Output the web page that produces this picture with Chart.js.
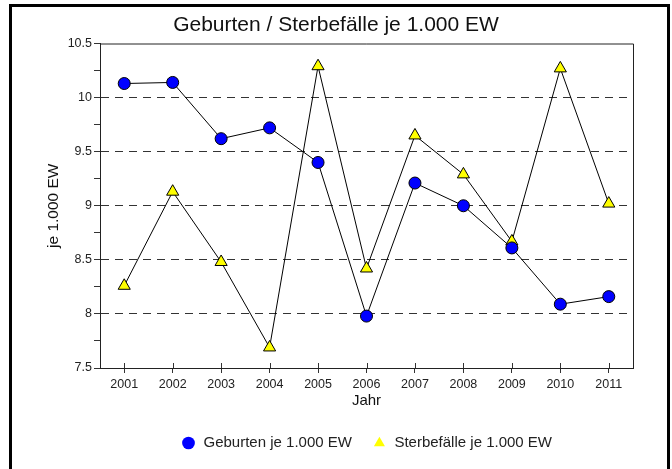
<!DOCTYPE html>
<html>
<head>
<meta charset="utf-8">
<script src="https://cdn.jsdelivr.net/npm/chart.js"></script>
<style>
    body { margin: 0; background: #fff; }
    #wrap { width: 672px; height: 469px; }
</style>
</head>
<body>
<div id="wrap"><canvas id="chart" width="672" height="469"></canvas></div>
<script>
// Data
const years = ['2001', '2002', '2003', '2004', '2005', '2006', '2007', '2008', '2009', '2010', '2011'];
const geburten = [10.13, 10.14, 9.62, 9.72, 9.40, 7.98, 9.21, 9.00, 8.61, 8.09, 8.16];
const sterbefaelle = [8.26, 9.13, 8.48, 7.69, 10.29, 8.42, 9.65, 9.29, 8.67, 10.27, 9.02];

const FONT = "'Liberation Sans', Arial, sans-serif";

// Outer frame, plot frame (top/right) and x ticks crossing the axis
const framePlugin = {
    id: 'frame',
    beforeDraw(chart) {
        const ctx = chart.ctx;
        ctx.save();
        ctx.fillStyle = '#ffffff';
        ctx.fillRect(0, 0, chart.width, chart.height);
        ctx.restore();
    },
    afterDraw(chart) {
        const ctx = chart.ctx;
        const a = chart.chartArea;
        ctx.save();
        // plot frame
        ctx.strokeStyle = '#222';
        ctx.lineWidth = 1;
        ctx.beginPath();
        ctx.moveTo(a.left, a.top + 0.5);
        ctx.lineTo(a.right + 0.5, a.top + 0.5);
        ctx.lineTo(a.right + 0.5, a.bottom);
        ctx.stroke();
        // inner part of x ticks
        const xs = chart.scales.x;
        ctx.strokeStyle = '#333';
        ctx.beginPath();
        xs.ticks.forEach((t, i) => {
            const px = Math.round(xs.getPixelForTick(i)) + 0.5;
            ctx.moveTo(px, a.bottom - 5);
            ctx.lineTo(px, a.bottom);
        });
        ctx.stroke();
        // page frame
        ctx.strokeStyle = '#000';
        ctx.lineWidth = 3;
        ctx.strokeRect(10.5, 5.5, 658, 470);
        ctx.restore();
    }
};

const ctx = document.getElementById('chart');
new Chart(ctx, {
    type: 'line',
    data: {
        labels: years,
        datasets: [{
            label: 'Geburten je 1.000 EW',
            data: geburten,
            borderColor: '#000',
            borderWidth: 1,
            pointStyle: 'circle',
            pointRadius: 6,
            pointBackgroundColor: '#0000ff',
            pointBorderColor: '#000',
            pointBorderWidth: 1,
            tension: 0
        }, {
            label: 'Sterbefälle je 1.000 EW',
            data: sterbefaelle,
            borderColor: '#000',
            borderWidth: 1,
            pointStyle: 'triangle',
            pointRadius: 7,
            pointBackgroundColor: '#ffff00',
            pointBorderColor: '#000',
            pointBorderWidth: 1,
            tension: 0
        }]
    },
    options: {
        responsive: false,
        animation: false,
        devicePixelRatio: 1,
        layout: { padding: { left: 0, right: 0, top: 0, bottom: 8.5 } },
        plugins: {
            title: {
                display: true,
                text: 'Geburten / Sterbefälle je 1.000 EW',
                font: { family: FONT, size: 21, weight: 'normal' },
                color: '#111',
                padding: { top: 12.4, bottom: 5.9 }
            },
            legend: {
                position: 'bottom',
                fullSize: false,
                labels: {
                    font: { family: FONT, size: 15 },
                    color: '#222',
                    usePointStyle: true,
                    boxWidth: 15,
                    boxHeight: 9,
                    padding: 20,
                    generateLabels: (chart) => {
                        const items = Chart.defaults.plugins.legend.labels.generateLabels(chart);
                        return items.map(it => Object.assign(it, { strokeStyle: it.fillStyle, lineWidth: 0 }));
                    }
                }
            },
            tooltip: { enabled: false }
        },
        scales: {
            x: {
                type: 'category',
                offset: true,
                afterFit: (scale) => { scale.height = 47.5; },
                grid: {
                    drawOnChartArea: false,
                    tickLength: 5,
                    color: '#333'
                },
                border: { color: '#222', width: 1 },
                ticks: {
                    font: { family: FONT, size: 12.5 },
                    color: '#222',
                    padding: 4,
                    maxRotation: 0
                },
                title: {
                    display: true,
                    text: 'Jahr',
                    font: { family: FONT, size: 15 },
                    color: '#111',
                    padding: { top: 0, bottom: 5.5 }
                }
            },
            y: {
                min: 7.5,
                max: 10.5,
                afterFit: (scale) => { scale.width = 100; },
                ticks: {
                    stepSize: 0.25,
                    font: { family: FONT, size: 12.5 },
                    color: '#222',
                    padding: 2,
                    callback: (v) => (Math.abs(v % 0.5) < 1e-9 ? String(v) : '')
                },
                grid: {
                    tickLength: 6,
                    tickColor: '#333',
                    color: (c) => {
                        const v = c.tick ? c.tick.value : null;
                        if (v === null) return 'transparent';
                        const major = Math.abs(v % 0.5) < 1e-9;
                        return major && v > 7.5 && v < 10.5 ? '#333' : 'transparent';
                    }
                },
                border: { color: '#222', width: 1, dash: [8, 6] },
                title: {
                    display: true,
                    text: 'je 1.000 EW',
                    font: { family: FONT, size: 15.5 },
                    color: '#111',
                    padding: { top: 44.2, bottom: 0 }
                }
            },
            // empty right axis that only reserves the margin right of the plot
            yRight: {
                position: 'right',
                display: true,
                afterFit: (scale) => { scale.width = 39; },
                grid: { display: false },
                border: { display: false },
                ticks: { display: false }
            }
        }
    },
    plugins: [framePlugin]
});
</script>
</body>
</html>
